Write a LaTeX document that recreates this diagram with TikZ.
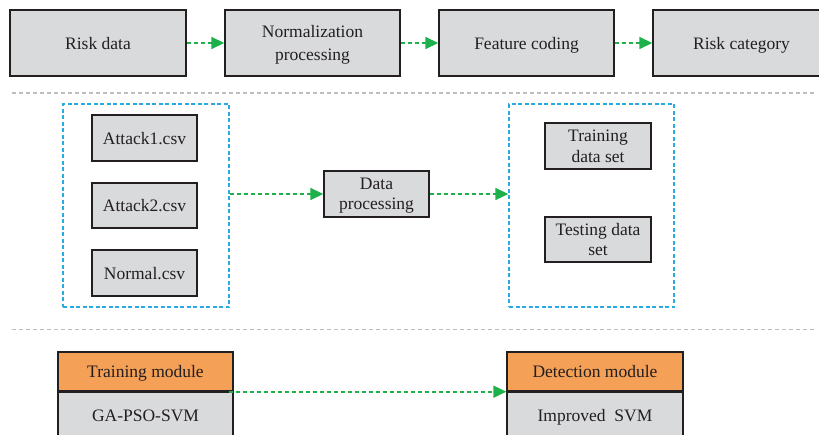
\documentclass[tikz,border=0pt]{standalone}
\usepackage{fontspec}
\setmainfont{Liberation Serif}
\usetikzlibrary{arrows.meta}
\definecolor{boxgray}{HTML}{D9DADC}
\definecolor{boxline}{HTML}{231F20}
\definecolor{arrgreen}{HTML}{1DB04B}
\definecolor{frameblue}{HTML}{29ABE2}
\definecolor{modorange}{HTML}{F4A057}
\definecolor{sepgray}{HTML}{BDBDBD}
\begin{document}
\begin{tikzpicture}[x=1pt,y=-1pt,
  graybox/.style={draw=boxline, line width=1.4pt, fill=boxgray, inner sep=0pt,
    align=center, font=\fontsize{17.5}{23}\selectfont, text=boxline, text depth=0pt},
  midbox/.style={graybox, font=\fontsize{17.5}{20.5}\selectfont},
  orangebox/.style={graybox, fill=modorange},
  framebox/.style={draw=frameblue, line width=1.3pt, dash pattern=on 4pt off 2.5pt, inner sep=0pt},
  flow/.style={draw=arrgreen, line width=1.6pt, dash pattern=on 4pt off 3pt,
    -{Triangle[length=13pt,width=12pt]}},
  separator/.style={draw=sepgray, line width=1.2pt, dash pattern=on 4pt off 3pt}]
\useasboundingbox (0,0) rectangle (819,434);
\begin{scope}
\clip (0,0) rectangle (819,434);
% top row
\node[graybox, minimum width=176pt, minimum height=66pt] (risk) at (98,43) {Risk data};
\node[graybox, minimum width=175pt, minimum height=66pt] (norm) at (312.5,43) {Normalization\\processing};
\node[graybox, minimum width=175pt, minimum height=66pt] (feat) at (526.5,43) {Feature coding};
\node[graybox, minimum width=177pt, minimum height=66pt] (cat) at (741.5,43) {Risk category};
\draw[flow] (risk) -- (norm);
\draw[flow] (norm) -- (feat);
\draw[flow] (feat) -- (cat);
% separators
\coordinate (s1a) at (12,93); \coordinate (s1b) at (817,93);
\coordinate (s2a) at (12,329.5); \coordinate (s2b) at (817,329.5);
\draw[separator] (s1a) -- (s1b);
\draw[separator] (s2a) -- (s2b);
% middle
\node[framebox, minimum width=166pt, minimum height=203pt] (lframe) at (146,205.5) {};
\node[midbox, minimum width=105pt, minimum height=46pt] (a1) at (144.5,138) {Attack1.csv};
\node[midbox, minimum width=105pt, minimum height=45pt] (a2) at (144.5,205.5) {Attack2.csv};
\node[midbox, minimum width=105pt, minimum height=46pt] (nm) at (144.5,273) {Normal.csv};
\node[midbox, minimum width=105pt, minimum height=46pt] (dp) at (376.5,194) {Data\\processing};
\node[framebox, minimum width=165pt, minimum height=203pt] (rframe) at (591.5,205.5) {};
\node[midbox, minimum width=106pt, minimum height=46pt] (train) at (598,146) {Training\\data set};
\node[midbox, minimum width=106pt, minimum height=45pt] (test) at (598,239.5) {Testing data\\set};
\draw[flow] (lframe.east |- dp.west) -- (dp.west);
\draw[flow] (dp.east) -- (rframe.west |- dp.east);
% bottom
\node[orangebox, minimum width=175pt, minimum height=39pt] (tm) at (145.5,371.5) {Training module};
\node[graybox, minimum width=175pt, minimum height=46pt, anchor=north] (gps) at (tm.south) {GA-PSO-SVM};
\node[orangebox, minimum width=176pt, minimum height=39pt] (dm) at (595,371.5) {Detection module};
\node[graybox, minimum width=176pt, minimum height=46pt, anchor=north] (isvm) at (dm.south) {Improved\ \ SVM};
\draw[flow] ([xshift=-5pt]tm.south east) -- (dm.south west);
\end{scope}
\end{tikzpicture}
\end{document}
